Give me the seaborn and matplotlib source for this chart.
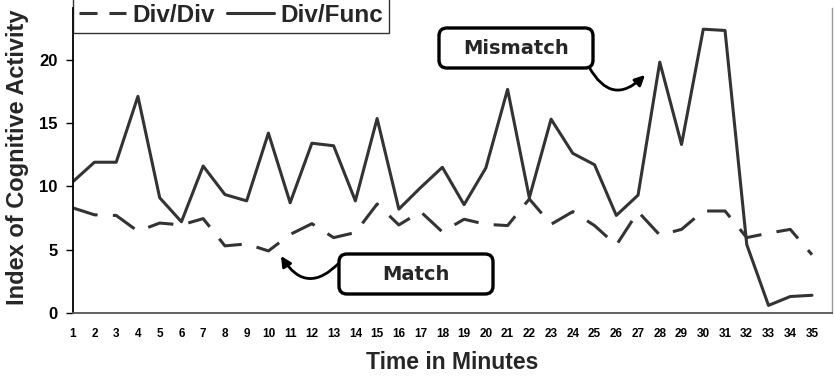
import matplotlib
matplotlib.use("Agg")
import matplotlib.pyplot as plt
from matplotlib.patches import FancyBboxPatch
import seaborn as sns
import pandas as pd

minutes = list(range(1, 36))
div_div = [8.3, 7.75, 7.7, 6.45, 7.1, 6.95, 7.45, 5.3, 5.45, 4.9,
           6.2, 7.05, 5.95, 6.35, 8.6, 6.95, 8.0, 6.4, 7.4, 7.0,
           6.9, 9.0, 7.0, 8.0, 6.9, 5.35, 8.0, 6.15, 6.6, 8.05,
           8.05, 5.95, 6.3, 6.6, 4.6]
div_func = [10.35, 11.9, 11.9, 17.1, 9.1, 7.2, 11.6, 9.35, 8.85, 14.2,
            8.7, 13.4, 13.2, 8.85, 15.35, 8.2, 9.9, 11.5, 8.55, 11.45,
            17.65, 9.1, 15.3, 12.6, 11.7, 7.7, 9.3, 19.8, 13.3, 22.4,
            22.3, 5.4, 0.6, 1.3, 1.4]
y_ticks = [0, 5, 10, 15, 20]
series_names = ["Div/Div", "Div/Func"]

df = pd.DataFrame({
    "minute": minutes * 2,
    "value": div_div + div_func,
    "series": [series_names[0]] * len(minutes) + [series_names[1]] * len(minutes),
})

sns.set_theme(style="white")
plt.rcParams["font.family"] = ["Liberation Sans", "DejaVu Sans"]
plt.rcParams["font.weight"] = "bold"

W, H = 834, 377
fig = plt.figure(figsize=(W / 100, H / 100), dpi=100)
ax_w = 832 - 72.7
ax = fig.add_axes([72.7 / W, 1 - 313 / H, ax_w / W, (313 - 8) / H])

line_color = "#333333"
dash = (0, (8.5, 5.0))
sns.lineplot(data=df[df.series == "Div/Div"], x="minute", y="value", ax=ax,
             color=line_color, lw=2.2, linestyle=dash, label="Div/Div")
sns.lineplot(data=df[df.series == "Div/Func"], x="minute", y="value", ax=ax,
             color=line_color, lw=2.2, label="Div/Func")

ax.set_xlim(1, 35 + 20 / 21.74)
ax.set_ylim(0, (313 - 8) / 12.67)
ax.set_xticks(minutes)
ax.set_xticklabels([str(m) for m in minutes], fontsize=8.5, fontweight="bold")
ax.set_yticks(y_ticks)
ax.set_yticklabels([str(v) for v in y_ticks], fontsize=12, fontweight="bold")
ax.tick_params(axis="x", length=0, pad=11, colors="black")
ax.tick_params(axis="y", length=5, width=1, direction="out", pad=6, colors="black", left=True)

ax.spines["top"].set_visible(False)
ax.spines["left"].set_color("black")
ax.spines["left"].set_linewidth(1.3)
ax.spines["bottom"].set_color("#555555")
ax.spines["bottom"].set_linewidth(1.3)
ax.spines["right"].set_color("#999999")
ax.spines["right"].set_linewidth(1.0)
ax.grid(False)

ax.set_xlabel("Time in Minutes", fontsize=16.5, fontweight="bold", labelpad=8)
ax.set_ylabel("Index of Cognitive Activity", fontsize=17, fontweight="bold")
ax.yaxis.set_label_coords((29 - 72.7) / ax_w, 0.51)

leg = ax.legend(loc="lower left", bbox_to_anchor=(72.7 / W, 1 - 33 / H),
                bbox_transform=fig.transFigure, ncol=2, frameon=True,
                fancybox=False, prop={"size": 17.5, "weight": "bold"},
                handlelength=1.95, handletextpad=0.25, columnspacing=0.5,
                borderpad=0.25, borderaxespad=0)
leg.get_frame().set_edgecolor("black")
leg.get_frame().set_linewidth(1.0)
leg.get_lines()[0].set_linestyle((0, (5.9, 3.9)))

# callout boxes with curved arrows
inch = fig.dpi_scale_trans
def callout(x0, y_top, text, start, end, rad):
    box = FancyBboxPatch((x0 / 100, (H - y_top - 40) / 100), 1.54, 0.40,
                         boxstyle="round,pad=0,rounding_size=0.08",
                         transform=inch, fc="white", ec="black", lw=2.4, zorder=5)
    fig.add_artist(box)
    fig.text((x0 + 77) / W, (H - y_top - 20) / H, text,
             ha="center", va="center", fontsize=14, fontweight="bold",
             family=["DejaVu Sans"], zorder=6)
    ax.annotate("", xy=(end[0] / 100, (H - end[1]) / 100), xycoords=inch,
                xytext=(start[0] / 100, (H - start[1]) / 100), textcoords=inch,
                arrowprops=dict(arrowstyle="-|>,head_length=0.5,head_width=0.25",
                                connectionstyle=f"arc3,rad={rad}", color="black",
                                lw=2.0, shrinkA=0, shrinkB=0), annotation_clip=False)

callout(439, 28, "Mismatch", (589, 67), (645, 75), 0.65)
callout(339, 254, "Match", (340, 262), (281, 256), -0.64)

fig.savefig("out.png", dpi=100)
